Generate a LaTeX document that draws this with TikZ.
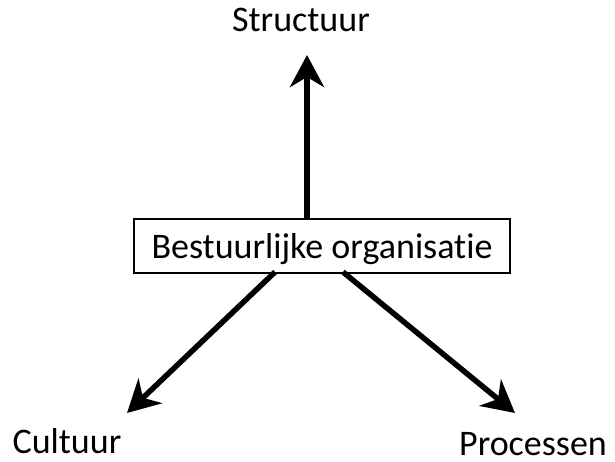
\documentclass[tikz,border=0pt]{standalone}
\usepackage{fontspec}
\setmainfont{Carlito}[Ligatures=NoCommon]
\usetikzlibrary{arrows.meta}

\begin{document}
\begin{tikzpicture}[x=1pt, y=1pt, >={Stealth[length=32pt, width=34pt, inset=10pt]},
    every node/.style={font=\fontsize{36}{40}\selectfont, inner sep=0pt},
    orgbox/.style={draw, line width=2.2pt, minimum width=376pt, minimum height=54pt,
        text height=25pt, text depth=1pt},
    label/.style={anchor=base},
    axis/.style={->, line width=5.5pt}]
    \useasboundingbox (0,0) rectangle (615,461);
    % Define nodes
    \node[orgbox] (org) at (322, 215) {Bestuurlijke organisatie};
    \node[label] (struc) at (301, 429) {Structuur};
    \node[label] (cult) at (67, 8) {Cultuur};
    \node[label] (proc) at (533, 6) {Processen};

    % Arrow ends
    \coordinate (tipS) at (307, 406);
    \coordinate (tipC) at (127, 48);
    \coordinate (tipP) at (515, 48);
    \coordinate (startC) at (275, 189);
    \coordinate (startP) at (343, 189);

    % Draw arrows
    \draw[axis] (org.north -| tipS) -- (tipS); % up to Structuur
    \draw[axis] (startC) -- (tipC); % down to Cultuur
    \draw[axis] (startP) -- (tipP); % down to Processen
\end{tikzpicture}
\end{document}
